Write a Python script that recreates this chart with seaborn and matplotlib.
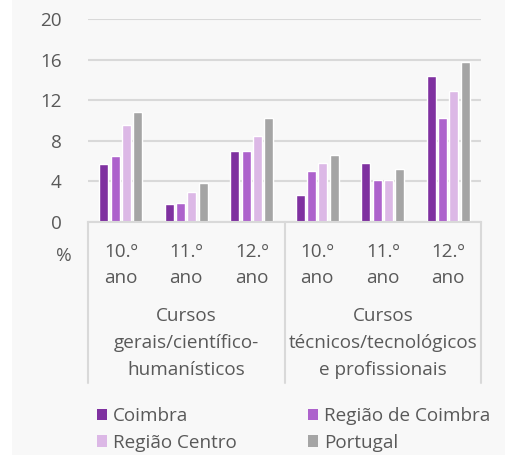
import pandas as pd
import matplotlib.pyplot as plt
import matplotlib.transforms as mtransforms
from matplotlib.patches import Patch, Rectangle
import seaborn as sns

# data (%)
groups = ['g1', 'g2', 'g3', 'g4', 'g5', 'g6']
year_labels = ['10.º\nano', '11.º\nano', '12.º\nano', '10.º\nano', '11.º\nano', '12.º\nano']
course_labels = ['Cursos\ngerais/científico-\nhumanísticos',
                 'Cursos\ntécnicos/tecnológicos\ne profissionais']
series = ['Coimbra', 'Região de Coimbra', 'Região Centro', 'Portugal']
coimbra = [5.7, 1.8, 7.0, 2.7, 5.8, 14.4]
regiao_coimbra = [6.5, 1.9, 7.0, 5.0, 4.1, 10.2]
regiao_centro = [9.6, 3.0, 8.5, 5.8, 4.1, 12.9]
portugal = [10.8, 3.8, 10.2, 6.6, 5.2, 15.8]
colors = ['#7f31a0', '#ad62cc', '#dcb8e6', '#a5a5a5']

rows = []
for name, vals in zip(series, [coimbra, regiao_coimbra, regiao_centro, portugal]):
    for g, v in zip(groups, vals):
        rows.append({'grupo': g, 'serie': name, 'valor': v})
df = pd.DataFrame(rows)

sns.set_style('white')
plt.rcParams['font.family'] = ['Open Sans', 'DejaVu Sans']
txt = '#595959'
fs = 13.6

fig = plt.figure(figsize=(5.05, 4.55), dpi=100, facecolor='white')
fig.patches.append(Rectangle((12 / 505, 0), 1, 1, transform=fig.transFigure,
                             facecolor='#f8f8f8', edgecolor='none', zorder=-10))
ax = fig.add_axes([88 / 505, 1 - 222 / 455, (481 - 88) / 505, (222 - 19) / 455])
ax.set_facecolor('#f8f8f8')

sns.barplot(data=df, x='grupo', y='valor', hue='serie', order=groups,
            hue_order=series, palette=colors, width=0.69, gap=0.2,
            saturation=1, ax=ax, legend=False)

ax.set_ylim(0, 20)
ax.set_xlim(-0.5, 5.5)
ax.set_yticks([0, 4, 8, 12, 16, 20])
ax.yaxis.grid(True, color='#d9d9d9', linewidth=1.5)
ax.set_axisbelow(True)
for s in ['top', 'right', 'left']:
    ax.spines[s].set_visible(False)
ax.spines['bottom'].set_color('#d9d9d9')
ax.spines['bottom'].set_linewidth(1.5)
ax.tick_params(axis='y', length=0, pad=19, labelsize=fs, labelcolor=txt)
ax.set_xticks([])
ax.set_xlabel('')
ax.set_ylabel('')

# category table under the axis
tr = mtransforms.blended_transform_factory(ax.transData, fig.transFigure)
for i, lab in enumerate(year_labels):
    ax.text(i, 1 - 265 / 455, lab, transform=tr, ha='center', va='center',
            fontsize=fs, color=txt, linespacing=1.62)
for i, lab in enumerate(course_labels):
    ax.text(1 + 3 * i, 1 - 343 / 455, lab, transform=tr, ha='center', va='center',
            fontsize=fs, color=txt, linespacing=1.62)
for x in [-0.5, 2.5, 5.5]:
    ax.plot([x, x], [1 - 222 / 455, 1 - 383 / 455], transform=tr, color='#d9d9d9',
            linewidth=1.5, clip_on=False)
fig.text(72 / 505, 1 - 256 / 455, '%', ha='right', va='center', fontsize=fs, color=txt)

# legend in two columns
handles = [Patch(facecolor=c, edgecolor='none') for c in colors]
kw = dict(frameon=False, fontsize=fs, handlelength=0.55, handleheight=0.55,
          handletextpad=0.3, borderpad=0, borderaxespad=0, labelspacing=0.45,
          labelcolor=txt, loc='upper left')
leg1 = fig.legend([handles[0], handles[2]], [series[0], series[2]],
                  bbox_to_anchor=(97 / 505, 1 - 407 / 455), **kw)
leg2 = fig.legend([handles[1], handles[3]], [series[1], series[3]],
                  bbox_to_anchor=(308 / 505, 1 - 407 / 455), **kw)

fig.savefig('out.png', dpi=100, facecolor=fig.get_facecolor())
